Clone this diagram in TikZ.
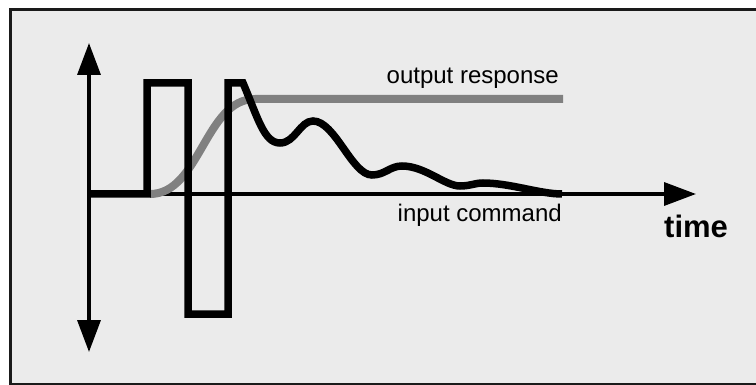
\documentclass[tikz,border=0pt]{standalone}
\usepackage{fontspec}
\setmainfont{Liberation Sans}
\usetikzlibrary{arrows.meta}
\definecolor{panel}{HTML}{EBEBEB}
\definecolor{frameline}{HTML}{1A1A1A}
\definecolor{respgray}{HTML}{808080}
\begin{document}
\begin{tikzpicture}[x=1pt,y=-1pt,
  axis/.style={line width=3.5pt,black,
    arrows={-{Triangle[length=32pt,width=23pt]}}},
  axisboth/.style={line width=3.5pt,black,
    arrows={{Triangle[length=32pt,width=23pt]}-{Triangle[length=32pt,width=23pt]}}},
  command/.style={line width=7.5pt,black,line join=miter,line cap=butt},
  response/.style={line width=8pt,respgray,line cap=butt},
  label/.style={font=\fontsize{24}{28}\selectfont,inner sep=0pt},
  timelabel/.style={font=\fontsize{31}{36}\selectfont\bfseries,inner sep=0pt}]
  \useasboundingbox (0,0) rectangle (756,385);
  % panel
  \fill[white] (0,0) rectangle (756,385);
  \draw[fill=panel,draw=frameline,line width=3pt] (10,10) rectangle (775,384);
  % axes
  \coordinate (origin) at (89,194);
  \coordinate (ytop) at (89,43);
  \coordinate (ybot) at (89,352);
  \coordinate (xend) at (696,194);
  \draw[axisboth] (ybot) -- (ytop);
  \draw[axis] (origin) -- (xend);
  % output response
  \draw[response] (150,194) .. controls (200,194) and (205,99) .. (255,99) -- (563,99);
  % input command
  \draw[command] (origin) -- (147,194) -- (147,83) -- (188,83) -- (188,314)
    -- (228,314) -- (228,83) -- (243,83)
    .. controls (258,118) and (264,143) .. (280,143)
    .. controls (295,143) and (300,121) .. (313,121)
    .. controls (335,121) and (352,175) .. (372,175)
    .. controls (385,175) and (390,166) .. (402,166)
    .. controls (425,166) and (445,186) .. (460,186)
    .. controls (470,186) and (475,183) .. (483,183)
    .. controls (510,183) and (540,194) .. (562,194);
  % labels
  \node[label,anchor=base east] (resp) at (559,84) {output response};
  \node[label,anchor=base east] (cmd) at (562,222) {input command};
  \node[timelabel,anchor=base west] (time) at (664,237) {time};
\end{tikzpicture}
\end{document}
